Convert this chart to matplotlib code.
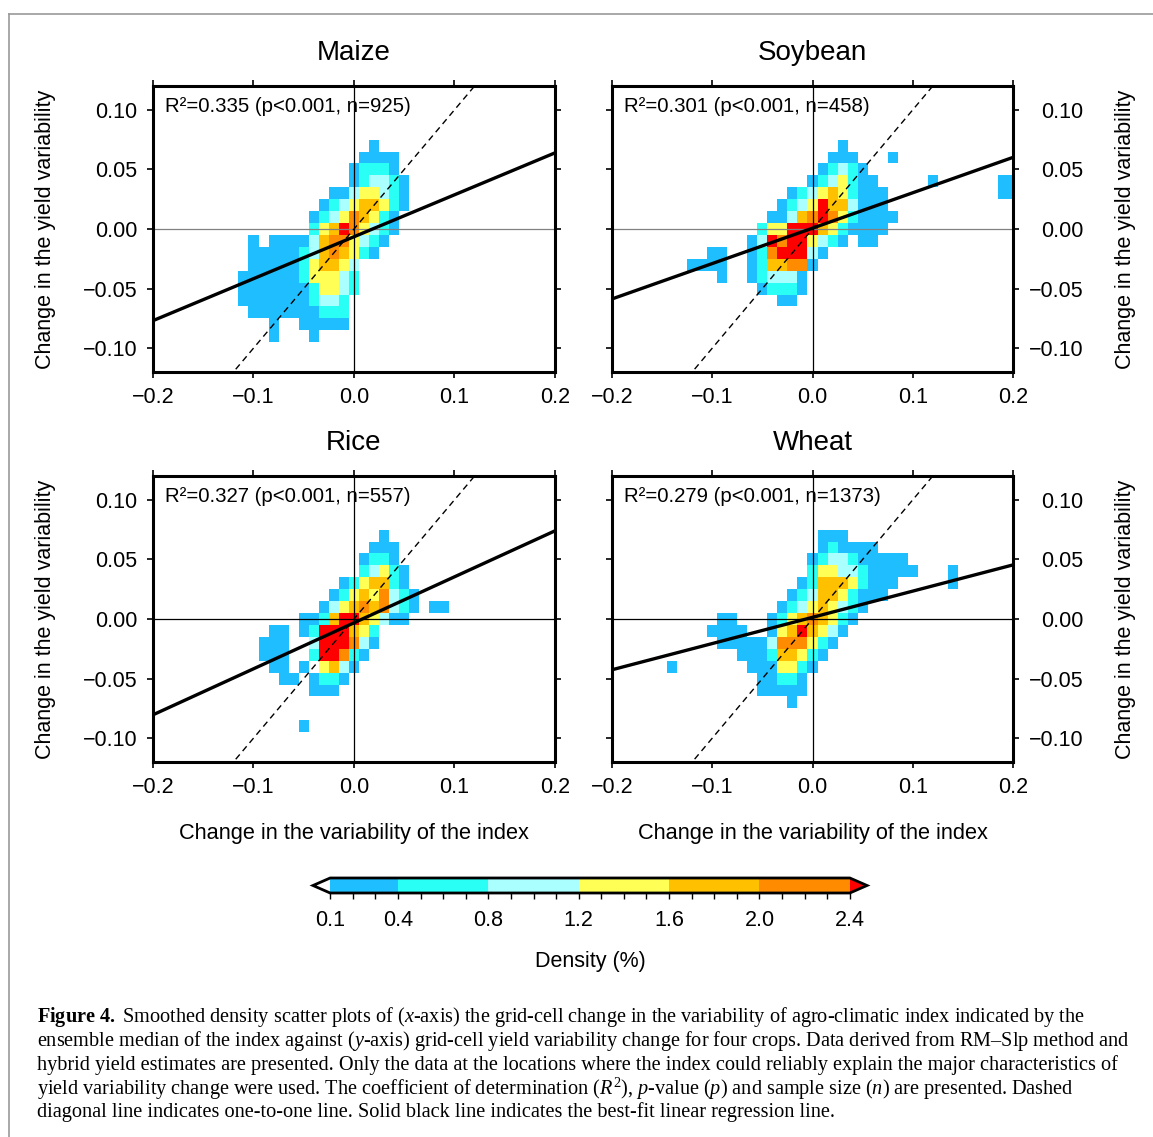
import numpy as np
import matplotlib
matplotlib.use('Agg')
import matplotlib.pyplot as plt
from matplotlib.colors import ListedColormap, BoundaryNorm
from matplotlib.cm import ScalarMappable
from matplotlib.lines import Line2D
from matplotlib.ticker import FixedLocator

plt.rcParams['font.family'] = ['Liberation Sans', 'DejaVu Sans']
plt.rcParams['mathtext.fontset'] = 'custom'
plt.rcParams['mathtext.rm'] = 'Liberation Serif'
plt.rcParams['mathtext.it'] = 'Liberation Serif:italic'
plt.rcParams['mathtext.bf'] = 'Liberation Serif:bold'

W, H = 1153, 1137

crops = ['Maize', 'Soybean', 'Rice', 'Wheat']
r2_vals = [0.335, 0.301, 0.327, 0.279]
n_vals = [925, 458, 557, 1373]
# best-fit regression lines
fit_slope = [0.352, 0.297, 0.386, 0.220]
fit_icept = [-0.0065, 0.0007, -0.0032, 0.0014]

# density classes (%) and their colours
levels = [0.1, 0.4, 0.8, 1.2, 1.6, 2.0, 2.4]
level_colors = ['#1fbfff', '#2afff5', '#aaffff', '#ffff55', '#ffc000', '#ff8c00']
# representative density for class code 1..7 (7 = above 2.4)
class_density = [np.nan, 0.25, 0.6, 1.0, 1.4, 1.8, 2.2, 2.6]

# grid of 0.01 x 0.01 cells: columns x=-0.14..0.20, rows y=+0.07..-0.09
col_first, col_last = -14, 20
row_first, row_last = 7, -9

maize = [
    "................1",
    "...............1111",
    "..............12221",
    "..............123321",
    "............11344321",
    "...........123455421",
    "..........123465421",
    "..........245764321",
    "....1.111135664321",
    "....1111123565421",
    "....11111245543",
    "...111111244432",
    "...111111124432",
    "...11111112332",
    "....1111111222",
    "......1..11111",
    "......1...1",
]

soybean = [
    ".................1",
    "................111...1",
    "...............12321",
    "..............1234211.....1......11",
    "............1234542111...........11",
    "...........12347553111",
    "..........1135676421111",
    ".........2447775421111",
    "........1376774321.11",
    "....11..12677731",
    "..1111..1255661",
    ".....1..123331",
    ".........12221",
    "...........11",
    "",
    "",
    "",
]

rice = [
    ".................1",
    "................111",
    "...............1221",
    "...............23421",
    ".............1245521",
    "............124546321",
    "...........1345656321.11",
    ".........11257754311",
    "......11.12777542",
    ".....111..3777631",
    ".....111..277621",
    "......11.1.4531",
    ".......11.1221",
    "..........111",
    "",
    "",
    ".........1",
]

wheat = [
    "...............111",
    "...............121111",
    "..............1233211111",
    "..............24433211111...1",
    ".............1255542111.....1",
    "............1235542111",
    "...........123454321",
    ".....11...124565421",
    "....1111..14575431",
    ".....111113666421",
    ".......111255421",
    "1.......1114421",
    ".........11221",
    ".........11111",
    "............1",
    "",
    "",
]

grids = [maize, soybean, rice, wheat]

panel_px = [(153, 86, 555, 372), (612, 86, 1013, 372),
            (153, 476, 555, 762), (612, 476, 1013, 762)]


def to_density(rows):
    ncol = col_last - col_first + 1
    codes = np.array([[0 if ch == '.' else int(ch) for ch in r.ljust(ncol, '.')]
                      for r in rows])
    return np.ma.masked_invalid(np.array(class_density)[codes])


def fx(px):
    return px / W


def fy(py):
    return 1 - py / H


cmap = ListedColormap(level_colors).with_extremes(under='white', over='#ff0000',
                                                  bad=(0, 0, 0, 0))
norm = BoundaryNorm(levels, cmap.N)

x_edges = np.arange(col_first, col_last + 2) * 0.01 - 0.005
y_edges = np.arange(row_first, row_last - 2, -1) * 0.01 + 0.005

xticks = [-0.2, -0.1, 0.0, 0.1, 0.2]
yticks = [-0.10, -0.05, 0.00, 0.05, 0.10]
xlabels = [f'{v:.1f}'.replace('-', '\u2212') for v in xticks]
ylabels = [f'{v:.2f}'.replace('-', '\u2212') for v in yticks]

fig = plt.figure(figsize=(W / 100, H / 100), dpi=100)

for k, crop in enumerate(crops):
    l, t, r, b = panel_px[k]
    ax = fig.add_axes([fx(l), fy(b), (r - l) / W, (b - t) / H])
    ax.pcolormesh(x_edges, y_edges, to_density(grids[k]), cmap=cmap, norm=norm,
                  zorder=1)
    zcol = '#808080' if k < 2 else 'black'
    ax.axhline(0, color=zcol, lw=0.9, zorder=2)
    ax.axvline(0, color='black', lw=0.9, zorder=2)
    xs = np.array([-0.2, 0.2])
    ax.plot(xs, xs, color='black', lw=1.0, dashes=(4.5, 3.2), zorder=3)
    ax.plot(xs, fit_slope[k] * xs + fit_icept[k], color='black', lw=2.4, zorder=4)
    ax.set_xlim(-0.2, 0.2)
    ax.set_ylim(-0.12, 0.12)
    ax.set_xticks(xticks, xlabels)
    ax.set_yticks(yticks, ylabels)
    for s in ax.spines.values():
        s.set_linewidth(2.2)
    ax.tick_params(direction='out', length=4.5, width=1.2, labelsize=15.5,
                   top=True, right=True)
    ax.tick_params(axis='x', pad=6)
    if k % 2 == 0:
        ax.tick_params(axis='y', labelleft=True, labelright=False, pad=6.5)
    else:
        ax.tick_params(axis='y', labelleft=False, labelright=True, pad=46)
        for tk in ax.yaxis.get_major_ticks():
            tk.label2.set_horizontalalignment('right')
    ax.text(0.03, 0.962, f'R\u00b2={r2_vals[k]:.3f} (p<0.001, n={n_vals[k]})',
            transform=ax.transAxes, ha='left', va='top', fontsize=14.7)

    cx = (l + r) / 2
    fig.text(fx(cx), fy(t - 33), crop, ha='center', va='center', fontsize=20)
    ylx = 46 if k % 2 == 0 else 1125
    fig.text(fx(ylx), fy((t + b) / 2), 'Change in the yield variability',
             rotation=90, ha='center', va='center', fontsize=15.5)
    if k >= 2:
        fig.text(fx(cx), fy(833), 'Change in the variability of the index',
                 ha='center', va='center', fontsize=15.7)

# colorbar
cax = fig.add_axes([fx(313), fy(893), 554 / W, 15 / H])
cbar = fig.colorbar(ScalarMappable(norm=norm, cmap=cmap), cax=cax,
                    orientation='horizontal', extend='both', extendfrac=0.033,
                    spacing='proportional')
cbar.set_ticks(levels, labels=[f'{v:.1f}' for v in levels])
cbar.minorlocator = FixedLocator(np.arange(0.1, 2.45, 0.1))
cbar.outline.set_linewidth(2.0)
cbar.ax.tick_params(which='both', direction='out', length=4, width=1.0,
                    labelsize=15.5, pad=8)
fig.text(fx(590), fy(961), 'Density (%)', ha='center', va='center', fontsize=15.5)

# caption
caption = [
    r"$\mathbf{Figure\ 4.}$ Smoothed density scatter plots of ($x$-axis) the grid-cell change in the variability of agro-climatic index indicated by the",
    r"ensemble median of the index against ($y$-axis) grid-cell yield variability change for four crops. Data derived from RM–Slp method and",
    r"hybrid yield estimates are presented. Only the data at the locations where the index could reliably explain the major characteristics of",
    r"yield variability change were used. The coefficient of determination ($R^2$), $p$-value ($p$) and sample size ($n$) are presented. Dashed",
    r"diagonal line indicates one-to-one line. Solid black line indicates the best-fit linear regression line.",
]
cap_y = [1017, 1041, 1065, 1089, 1112]
for line, yy in zip(caption, cap_y):
    fig.text(fx(37), fy(yy), line, ha='left', va='center', fontsize=14.6,
             family='Liberation Serif')

# grey frame of the figure box
fig.add_artist(Line2D([fx(9), 1], [fy(14), fy(14)], color='#999999', lw=1.2,
                      transform=fig.transFigure))
fig.add_artist(Line2D([fx(9), fx(9)], [0, fy(14)], color='#999999', lw=1.2,
                      transform=fig.transFigure))

fig.savefig('out.png', dpi=100)
